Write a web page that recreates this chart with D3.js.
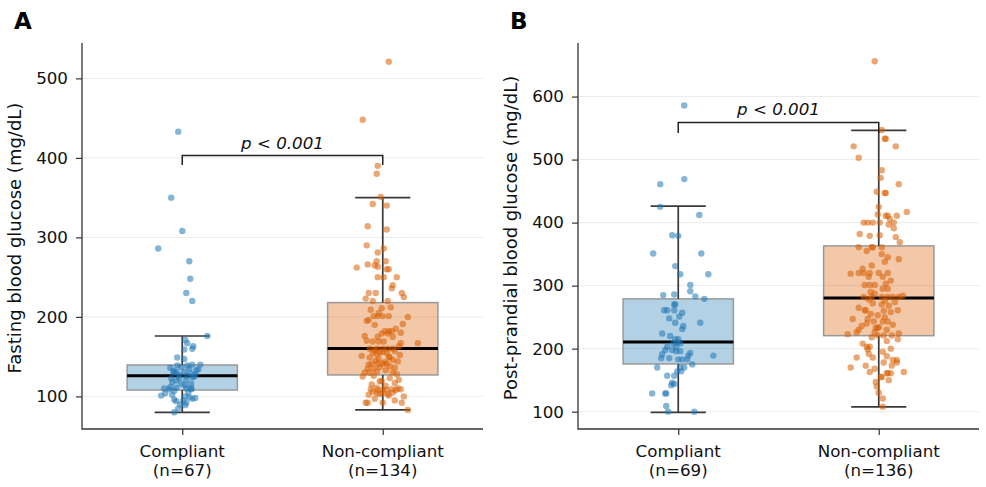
<!DOCTYPE html>
<html>
<head>
<meta charset="utf-8">
<script src="https://cdn.jsdelivr.net/npm/d3@7"></script>
<style>
  body { margin: 0; background: #fff; }
  text { font-family: "DejaVu Sans", sans-serif; }
</style>
</head>
<body>
<script>

// data

const groups = ["Compliant", "Non-compliant"];
const fastingCounts = [67, 134];
const ppCounts = [69, 136];

// [whisker low, Q1, median, Q3, whisker high]
const fastingStats = [[80, 108, 126, 139.5, 176], [83, 127, 160.4, 218, 350]];
const ppStats = [[99, 175.7, 210.6, 279, 426], [107.5, 220.6, 280.5, 363, 546.5]];

const fastingTicks = [100, 200, 300, 400, 500];
const ppTicks = [100, 200, 300, 400, 500, 600];

// [value, jitter (fraction of category step)]
const fastingCompliant = [
    [433,-0.02],[350,-0.055],[308,0.0],[286,-0.12],[270,0.035],[248,0.04],[230,0.02],[220,0.05],
    [176,0.125],[171,0.015],[167,0.025],[163,0.055],[160,0.05],[159,0.01],[149,-0.025],[147,0.01],
    [140,0.05],[140,0.09],[139,-0.025],[139,0.025],
    [137,-0.005],[136,-0.06],[135,0.035],[134,0.08],[133,0.07],[132,-0.045],[131,-0.03],[131,0.01],
    [130,-0.04],[129,0.04],[128,0.065],[127,-0.015],
    [126,0.02],[125,0.06],[124,0.05],[123,-0.055],[123,-0.015],[121,0.02],[120,-0.03],[118,-0.05],
    [116,-0.005],[116,0.045],[114,0.015],[112,-0.06],[111,-0.03],[110,-0.09],[110,0.02],[110,0.045],
    [109,-0.065],[109,0.045],
    [107,-0.04],[105,0.03],[104,-0.085],[102,-0.05],[101,-0.105],[100,0.015],[99,0.035],[98,0.065],
    [97,0.05],[96,-0.04],[95,0.005],[94,-0.03],[92,0.02],[90,-0.01],[89,0.015],[85,-0.02],[80,-0.04]
];

const fastingNonCompliant = [
    [521,0.03],[448,-0.1],[390,-0.025],[380,-0.03],
    [351,-0.01],[342,-0.05],[340,0.02],[314,-0.075],[310,0.02],[290,-0.08],[286,0.005],[281,-0.025],
    [270,-0.03],[270,0.015],[266,-0.075],[265,-0.04],[262,-0.13],[263,-0.025],[260,0.02],[260,0.03],
    [250,-0.025],[250,0.005],[250,0.07],[240,0.05],[236,0.045],[230,-0.07],[230,-0.035],[230,0.095],
    [225,0.105],[223,-0.085],[220,-0.05],[220,0.025],
    [211,-0.005],[209,-0.06],[201,-0.045],[201,-0.025],[201,0.0],[201,0.03],[200,0.125],[195,-0.08],
    [196,-0.07],[191,0.1],
    [182,0.01],[182,0.03],[182,0.045],[179,-0.005],[179,0.025],[180,0.09],[175,-0.025],[175,0.05],
    [170,-0.08],[169,-0.05],[169,-0.02],[169,0.005],[167,0.09],[167,0.175],
    [160,-0.065],[160,-0.03],[160,0.0],[160,0.025],[160,0.05],
    [155,-0.05],[155,-0.015],[155,0.02],[151,-0.105],[149,-0.065],[149,0.035],
    [141,-0.055],[141,-0.025],[141,0.0],[141,0.02],
    [135,-0.075],[135,-0.045],[130,-0.09],[130,-0.065],[130,0.05],
    [125,-0.1],[121,0.08],[119,-0.015],[119,-0.005],
    [109,-0.06],[108,-0.025],[109,0.0],[108,0.02],[109,0.045],[108,0.065],[109,0.09],
    [104,-0.03],[103,-0.015],[104,0.0],[103,0.025],[100,0.105],
    [92,-0.085],[92,-0.075],[92,0.0],[92,0.095],[83,0.125],
    [212,0.04],[205,-0.02],[190,-0.04],[185,0.065],[176,-0.09],[163,0.08],
    [158,-0.04],[157,0.06],[156,0.0],[153,-0.03],[152,0.085],[150,0.03],[147,-0.02],[146,0.05],
    [145,-0.035],[144,0.075],[143,0.01],[140,-0.07],[138,0.035],[137,-0.015],[136,0.06],[133,0.015],
    [131,-0.03],[128,0.07],
    [126,-0.045],[123,0.035],[117,0.06],[115,-0.055],[113,0.015],[111,-0.03],[110,0.075],[106,-0.05],
    [105,0.05],[102,-0.07],[101,0.03],[97,-0.04],[95,0.06]
];

const ppCompliant = [
    [586,0.03],[469,0.03],[461,-0.09],[425,-0.09],[412,0.105],
    [380,-0.03],[379,0.0],[351,-0.125],[351,0.115],[331,-0.015],[318,0.01],[318,0.15],[301,0.06],
    [291,0.06],[285,-0.075],[286,-0.02],[283,0.085],[279,0.13],
    [270,-0.02],[270,-0.015],[261,-0.07],[261,-0.055],[261,-0.02],[257,0.02],[251,0.005],[248,-0.045],
    [241,-0.015],[241,0.11],[236,0.025],[231,0.02],[224,-0.08],[220,-0.04],
    [215,-0.015],[215,0.0],[210,-0.005],[208,-0.025],[208,0.01],[203,-0.055],[203,-0.01],[198,-0.065],
    [198,-0.03],[196,-0.01],[196,0.01],[193,0.06],[191,-0.08],[189,0.05],[189,0.175],[185,-0.085],
    [185,-0.045],[183,0.0],[183,0.02],[183,0.045],
    [175,0.07],[170,-0.105],[170,0.01],[170,0.03],[164,-0.005],[164,0.015],[157,-0.055],[157,-0.02],
    [146,-0.03],[144,-0.02],[142,-0.035],[129,-0.13],[129,-0.065],[129,-0.06],[109,-0.06],[100,-0.05],
    [100,0.08]
];

const ppNonCompliant = [
    [656,-0.02],[547,0.015],[533,0.03],[533,0.035],[521,-0.125],[521,0.085],[503,-0.1],[483,0.015],
    [471,0.01],[461,0.1],[447,0.03],[447,0.035],[449,-0.01],[425,0.0],[417,0.14],[413,-0.005],
    [411,0.035],[411,0.045],[411,0.09],[406,0.055],[400,-0.075],[400,-0.055],[400,-0.03],[400,0.005],
    [400,0.075],[397,0.05],[382,-0.095],[379,-0.045],[380,0.005],[391,0.075],[377,0.085],[369,0.105],
    [361,-0.1],[361,-0.035],[361,0.015],[361,-0.03],
    [350,0.015],[345,0.045],[342,0.1],[332,-0.035],
    [319,-0.14],[320,-0.1],[320,-0.075],[320,-0.045],[320,0.0],[320,0.045],[314,0.02],[314,-0.05],
    [303,0.035],[301,-0.07],[301,-0.045],[301,-0.02],[295,0.02],[295,0.045],[287,-0.02],
    [282,-0.075],[282,-0.035],[282,0.015],[282,0.045],[282,0.07],[282,0.1],
    [270,0.015],[261,-0.07],[261,-0.065],[260,0.025],[261,0.095],
    [253,-0.005],[247,-0.13],[247,-0.055],[243,-0.025],[243,0.02],[243,0.045],
    [236,-0.085],[233,-0.015],[233,-0.005],[230,-0.1],[226,-0.11],[223,-0.155],[221,-0.005],[221,0.025],
    [221,0.065],
    [215,0.095],[203,-0.06],[203,-0.045],[199,-0.055],[200,0.06],
    [186,-0.11],[186,-0.03],[188,0.04],[182,0.07],[182,0.09],[178,0.025],[173,-0.065],[173,0.065],
    [170,-0.14],
    [163,-0.045],[161,0.045],[161,0.06],[161,0.04],[163,0.125],[155,0.015],[155,0.01],[147,-0.015],
    [130,0.0],[121,0.02],[108,0.02],
    [355,-0.06],[338,0.03],[327,-0.08],[308,0.06],[290,-0.04],[284,0.12],
    [278,-0.05],[276,0.03],[274,0.08],[272,-0.03],[268,0.05],[265,-0.1],[258,0.06],[255,-0.04],
    [250,0.03],[240,-0.06],[238,0.07],[234,0.0],[230,0.04],[226,-0.02],[224,0.1],
    [218,-0.035],[212,0.04],[208,-0.08],[195,0.02],[192,-0.05],[178,0.09],[168,-0.02],[150,0.05],
    [140,-0.01]
];

// [bracket value, drop value]
const fastingBracket = [403, 391];
const ppBracket = [559, 542];

const colors = ["#1f77b4", "#d95f02"];

// dimensions

const dms = {
    width: 986,
    height: 487,
    top: 43,
    bottom: 429,
    axisWidth: 401
};

const svg = d3.select("body")
    .append("svg")
        .attr("width", dms.width)
        .attr("height", dms.height);

function drawPanel(opts) {

    const g = svg.append("g")
        .attr("transform", `translate(${opts.left}, 0)`);

    const xScale = d3.scalePoint()
        .domain(groups)
        .range([0, dms.axisWidth])
        .padding(0.5);
    const step = xScale.step();

    const yScale = d3.scaleLinear()
        .domain(opts.domain)
        .range([dms.bottom, dms.top]);

    // grid
    g.selectAll(".grid")
        .data(opts.ticks)
        .join("line")
            .attr("x1", 0)
            .attr("x2", dms.axisWidth)
            .attr("y1", d => yScale(d))
            .attr("y2", d => yScale(d))
            .attr("stroke", "#ebebeb")
            .attr("stroke-width", 1);

    const boxW = step * 0.55;
    const capW = boxW / 2; // caps are half the box width

    // boxes
    g.selectAll(".box")
        .data(opts.stats)
        .join("rect")
            .attr("x", (d, i) => xScale(groups[i]) - boxW / 2)
            .attr("width", boxW)
            .attr("y", d => yScale(d[3]))
            .attr("height", d => yScale(d[1]) - yScale(d[3]))
            .attr("fill", (d, i) => colors[i])
            .attr("fill-opacity", 0.34)
            .attr("stroke", "#999")
            .attr("stroke-width", 1.5);

    // whiskers
    opts.stats.forEach((s, i) => {
        const cx = xScale(groups[i]);
        const wg = g.append("g")
            .attr("stroke", "#3a3a3a")
            .attr("stroke-width", 1.7);
        wg.append("line")
            .attr("x1", cx).attr("x2", cx)
            .attr("y1", yScale(s[0])).attr("y2", yScale(s[1]));
        wg.append("line")
            .attr("x1", cx).attr("x2", cx)
            .attr("y1", yScale(s[3])).attr("y2", yScale(s[4]));
        [s[0], s[4]].forEach(v => {
            wg.append("line")
                .attr("x1", cx - capW / 2).attr("x2", cx + capW / 2)
                .attr("y1", yScale(v)).attr("y2", yScale(v));
        });
        g.append("line")
            .attr("x1", cx - boxW / 2).attr("x2", cx + boxW / 2)
            .attr("y1", yScale(s[2])).attr("y2", yScale(s[2]))
            .attr("stroke", "#000")
            .attr("stroke-width", 3);
    });

    // points
    opts.points.forEach((pts, i) => {
        g.append("g")
            .selectAll("circle")
            .data(pts)
            .join("circle")
                .attr("cx", d => xScale(groups[i]) + d[1] * step)
                .attr("cy", d => yScale(d[0]))
                .attr("r", 3.2)
                .attr("fill", colors[i])
                .attr("fill-opacity", 0.55);
    });

    // significance bracket
    const x0 = xScale(groups[0]);
    const x1 = xScale(groups[1]);
    const by = yScale(opts.bracket[0]);
    const bd = yScale(opts.bracket[1]);
    g.append("path")
        .attr("d", `M${x0},${bd}V${by}H${x1}V${bd}`)
        .attr("fill", "none")
        .attr("stroke", "#222")
        .attr("stroke-width", 1.5);
    g.append("text")
        .attr("x", (x0 + x1) / 2)
        .attr("y", by - 7)
        .attr("text-anchor", "middle")
        .attr("font-size", 16.7)
        .attr("font-style", "italic")
        .attr("fill", "#111")
        .text("p < 0.001");

    // axes
    const yAxis = g.append("g")
        .call(d3.axisLeft(yScale).tickValues(opts.ticks).tickSize(6).tickPadding(8));
    yAxis.select(".domain").remove();
    yAxis.selectAll("line").attr("stroke", "#333").attr("stroke-width", 1.2);
    yAxis.selectAll("text")
        .attr("font-size", 16.7)
        .attr("font-family", "DejaVu Sans")
        .attr("fill", "#111");

    const xAxis = g.append("g")
        .attr("transform", `translate(0, ${dms.bottom})`)
        .call(d3.axisBottom(xScale).tickSize(6).tickFormat(""));
    xAxis.select(".domain").remove();
    xAxis.selectAll("line").attr("stroke", "#333").attr("stroke-width", 1.2);

    groups.forEach((name, i) => {
        const t = g.append("text")
            .attr("text-anchor", "middle")
            .attr("font-size", 16.7)
            .attr("fill", "#111");
        t.append("tspan")
            .attr("x", xScale(name))
            .attr("y", dms.bottom + 28.2)
            .text(name);
        t.append("tspan")
            .attr("x", xScale(name))
            .attr("y", dms.bottom + 47)
            .text(`(n=${opts.counts[i]})`);
    });

    // spines
    g.append("path")
        .attr("d", `M0,${dms.top}V${dms.bottom}H${dms.axisWidth}`)
        .attr("fill", "none")
        .attr("stroke", "#333")
        .attr("stroke-width", 1.3);

    // y label
    g.append("text")
        .attr("transform", `translate(${opts.labelX - opts.left}, ${(dms.top + dms.bottom) / 2 + 2}) rotate(-90)`)
        .attr("text-anchor", "middle")
        .attr("font-size", 18)
        .attr("fill", "#111")
        .text(opts.yLabel);

    // panel letter
    svg.append("text")
        .attr("x", opts.letterX)
        .attr("y", 28.5)
        .attr("font-size", 23)
        .attr("font-weight", "bold")
        .attr("fill", "#000")
        .text(opts.letter);
}

drawPanel({
    left: 82,
    domain: [59, 544.5],
    ticks: fastingTicks,
    stats: fastingStats,
    points: [fastingCompliant, fastingNonCompliant],
    counts: fastingCounts,
    bracket: fastingBracket,
    yLabel: "Fasting blood glucose (mg/dL)",
    labelX: 20.5,
    letter: "A",
    letterX: 14
});

drawPanel({
    left: 578,
    domain: [72.5, 685],
    ticks: ppTicks,
    stats: ppStats,
    points: [ppCompliant, ppNonCompliant],
    counts: ppCounts,
    bracket: ppBracket,
    yLabel: "Post-prandial blood glucose (mg/dL)",
    labelX: 516.5,
    letter: "B",
    letterX: 510
});

</script>
</body>
</html>
